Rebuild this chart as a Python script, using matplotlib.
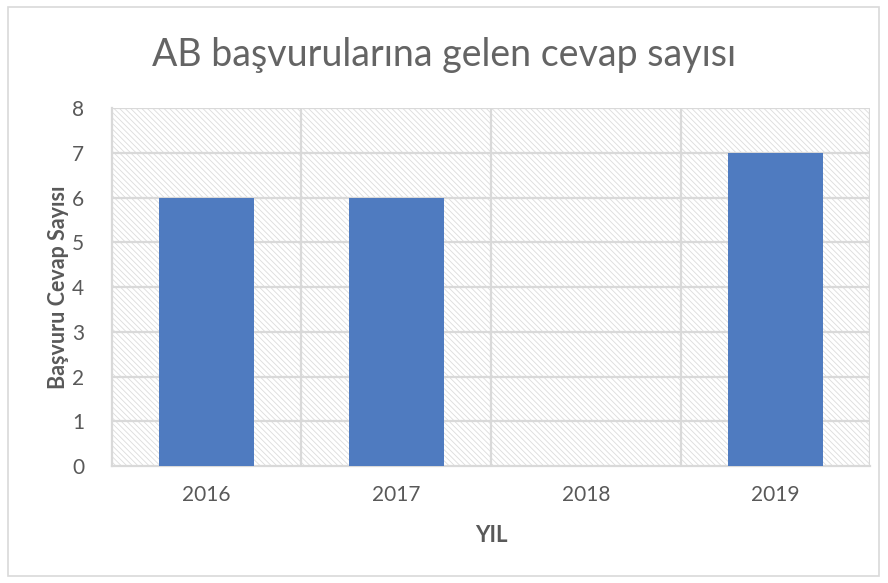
import matplotlib.pyplot as plt
from matplotlib.patches import Rectangle

years = ["2016", "2017", "2018", "2019"]
responses = [6, 6, 0, 7]
y_ticks = [0, 1, 2, 3, 4, 5, 6, 7, 8]

plt.rcParams["font.family"] = ["Lato", "DejaVu Sans"]
plt.rcParams["hatch.color"] = "#dcdcdc"
plt.rcParams["hatch.linewidth"] = 0.6

fig = plt.figure(figsize=(8.88, 5.83), dpi=100)
ax = fig.add_axes([0.126, 0.2007, 0.854, 0.614])

# hatched plot area
ax.patch.set_facecolor("white")
ax.patch.set_hatch("\\\\\\\\\\\\")
ax.patch.set_edgecolor("#dcdcdc")

x = list(range(len(years)))
ax.bar(x, responses, width=0.5, color="#4F7BC0", zorder=3)

ax.set_xlim(-0.5, len(years) - 0.5)
ax.set_ylim(0, 8)
ax.set_yticks(y_ticks)
ax.set_xticks(x)
ax.set_xticklabels(years)

for yv in y_ticks[1:]:
    ax.axhline(yv, color="#d9d9d9", lw=1.6, zorder=2)
for xv in [i + 0.5 for i in range(len(years))]:
    ax.axvline(xv, color="#d9d9d9", lw=1.6, zorder=2)

for s in ["top", "right"]:
    ax.spines[s].set_visible(False)
ax.spines["left"].set_color("#d9d9d9")
ax.spines["left"].set_linewidth(1.6)
ax.spines["bottom"].set_color("#d9d9d9")
ax.spines["bottom"].set_linewidth(1.6)

ax.tick_params(axis="both", colors="#595959", labelsize=15, length=0)
ax.tick_params(axis="x", pad=14)
ax.tick_params(axis="y", pad=20)

ax.set_xlabel("YIL", fontsize=16, fontweight="bold", color="#595959", labelpad=14)
ax.set_ylabel("Başvuru Cevap Sayısı", fontsize=15.5, fontweight="bold", color="#595959", labelpad=2)

fig.text(0.5, 0.906, "AB başvurularına gelen cevap sayısı", ha="center", va="center",
         fontsize=27, color="#646464")

fig.patches.append(Rectangle((0.009, 0.012), 0.981, 0.976, transform=fig.transFigure,
                             fill=False, edgecolor="#d9d9d9", lw=1.2))

fig.savefig("out.png", dpi=100)
